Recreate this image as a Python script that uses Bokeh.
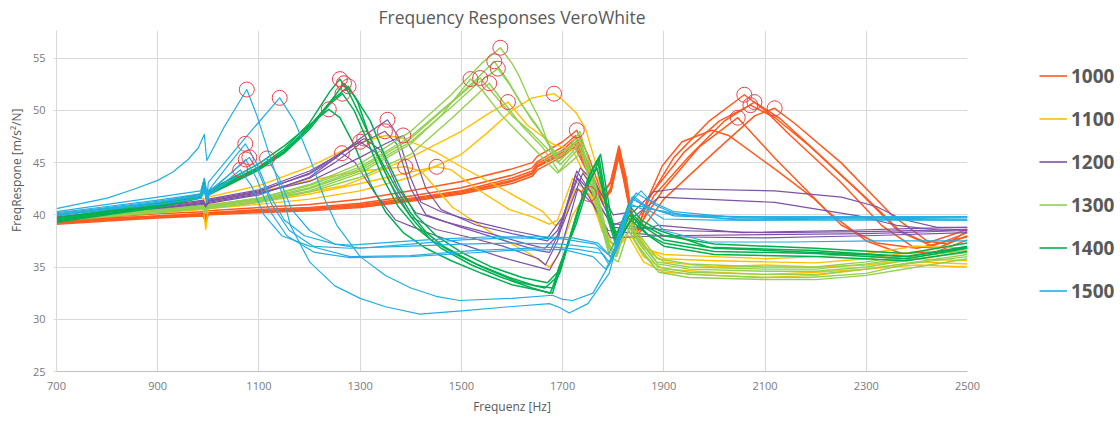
from bokeh.plotting import figure
from bokeh.layouts import row
from bokeh.models import Range1d, FixedTicker, Legend, LegendItem, Title
from bokeh.embed import file_html
from bokeh.resources import INLINE

# ---------------- data (frequency [Hz], response [m/s^2/N]) ----------------
group_names = ["1000", "1100", "1200", "1300", "1400", "1500"]
group_colors = ["#FF5A1F", "#FFC000", "#7E52A8", "#92D050", "#00B050", "#22AEE4"]
group_widths = [1.5, 1.4, 1.2, 1.4, 1.5, 1.2]

x_ticks = [700, 900, 1100, 1300, 1500, 1700, 1900, 2100, 2300, 2500]
y_ticks = [25, 30, 35, 40, 45, 50, 55]

# 1000
r1000_a = [(700,39.2),(800,39.5),(900,39.8),(990,40.0),(995,39.5),(1000,40.1),(1100,40.3),(1200,40.5),(1300,40.8),(1400,41.4),(1500,42.1),(1600,43.2),(1640,43.9),(1650,44.6),(1700,45.8),(1725,46.8),(1750,44.2),(1778,41.3),(1795,42.5),(1811,46.2),(1825,43.0),(1842,37.8),(1870,41.5),(1920,45.5),(1990,49.0),(2059,51.5),(2100,50.0),(2150,47.6),(2250,43.1),(2330,39.0),(2390,37.0),(2440,36.8),(2500,38.0)]
r1000_b = [(700,39.3),(800,39.6),(900,39.9),(990,40.1),(995,39.7),(1000,40.2),(1100,40.4),(1200,40.6),(1300,41.0),(1400,41.6),(1500,42.3),(1600,43.5),(1640,44.2),(1650,44.9),(1700,46.2),(1728,47.4),(1752,44.6),(1780,41.0),(1797,42.8),(1812,46.5),(1827,42.5),(1845,38.0),(1880,41.8),(1950,45.6),(2020,49.0),(2079,50.8),(2130,49.2),(2200,46.1),(2300,41.6),(2370,38.3),(2430,37.0),(2500,38.3)]
r1000_c = [(700,39.4),(800,39.7),(900,39.9),(990,40.1),(995,39.6),(1000,40.2),(1100,40.5),(1200,40.7),(1300,41.1),(1400,41.8),(1500,42.6),(1600,43.8),(1640,44.5),(1650,45.1),(1700,46.5),(1726,47.6),(1750,45.0),(1776,41.8),(1794,43.0),(1810,46.0),(1826,42.0),(1843,38.3),(1875,42.0),(1940,46.0),(2010,49.0),(2071,50.5),(2120,49.3),(2190,46.5),(2290,42.0),(2360,38.6),(2420,37.3),(2500,38.6)]
r1000_d = [(700,39.3),(800,39.6),(900,39.8),(990,40.0),(995,39.6),(1000,40.1),(1100,40.3),(1200,40.5),(1300,40.9),(1400,41.5),(1500,42.2),(1600,43.3),(1640,44.0),(1650,44.7),(1700,46.0),(1727,47.0),(1752,44.3),(1779,41.2),(1796,42.3),(1812,45.8),(1828,42.2),(1846,37.9),(1900,41.5),(2000,46.0),(2080,49.5),(2119,50.2),(2160,48.7),(2250,45.0),(2350,40.0),(2420,37.5),(2460,37.2),(2500,38.5)]
r1000_e = [(700,39.1),(800,39.4),(900,39.7),(990,39.9),(995,39.3),(1000,40.0),(1100,40.2),(1200,40.4),(1300,40.7),(1400,41.3),(1500,42.0),(1600,43.0),(1640,43.7),(1650,44.3),(1700,45.6),(1724,46.5),(1750,44.0),(1777,41.5),(1795,42.2),(1810,45.5),(1824,42.8),(1841,38.2),(1900,42.5),(1970,46.5),(2046,49.3),(2120,45.4),(2224,40.3),(2300,37.5),(2370,36.3),(2440,36.5),(2500,37.6)]
r1000_f = [(700,39.5),(800,39.8),(900,40.1),(990,40.3),(995,39.9),(1000,40.4),(1100,40.7),(1200,41.0),(1300,41.5),(1400,42.3),(1500,43.2),(1600,44.4),(1640,45.0),(1650,45.6),(1700,47.0),(1728,48.1),(1752,45.5),(1778,42.0),(1795,43.2),(1811,46.6),(1826,43.5),(1840,39.0),(1857,40.3),(1897,44.7),(1936,47.0),(1995,48.1),(2028,47.6),(2119,44.4),(2198,41.5),(2251,39.0),(2320,37.3),(2400,36.8),(2500,37.9)]

# 1100
r1100_a = [(700,39.8),(800,40.0),(900,40.3),(990,40.6),(995,38.6),(1000,40.6),(1100,41.0),(1200,41.5),(1300,42.3),(1400,43.6),(1500,45.8),(1550,47.8),(1600,50.0),(1640,51.2),(1683,51.6),(1700,51.0),(1726,49.8),(1745,48.3),(1765,45.0),(1779,41.6),(1792,40.0),(1805,38.0),(1825,40.0),(1845,38.5),(1870,36.5),(1900,35.5),(2000,35.0),(2100,35.2),(2200,35.0),(2300,35.2),(2400,35.8),(2500,35.6)]
r1100_b = [(700,39.9),(800,40.2),(900,40.5),(990,40.9),(995,40.6),(1000,41.0),(1100,41.5),(1200,42.2),(1267,42.8),(1300,43.4),(1400,45.5),(1500,48.0),(1550,49.6),(1592,50.8),(1630,48.6),(1680,46.8),(1720,46.2),(1750,43.2),(1778,38.4),(1800,37.2),(1828,39.8),(1860,37.0),(1900,35.8),(2000,35.6),(2100,35.5),(2200,35.4),(2300,35.8),(2400,36.5),(2500,36.5)]
r1100_c = [(700,40.2),(800,40.6),(900,41.1),(990,41.6),(995,41.2),(1000,41.7),(1100,42.8),(1200,44.6),(1267,46.2),(1305,47.0),(1350,47.6),(1380,47.4),(1450,46.0),(1496,44.7),(1580,42.5),(1661,40.3),(1685,39.0),(1700,39.3),(1725,42.5),(1752,42.0),(1775,39.5),(1800,37.0),(1830,39.0),(1860,36.8),(1900,36.2),(2000,36.0),(2100,35.8),(2200,36.0),(2300,36.3),(2400,37.0),(2500,36.8)]
r1100_d = [(700,40.0),(800,40.4),(900,40.9),(990,41.3),(995,41.0),(1000,41.4),(1100,42.2),(1200,43.3),(1300,44.2),(1389,44.6),(1420,44.2),(1483,40.7),(1562,38.2),(1634,36.3),(1674,35.0),(1690,36.0),(1720,40.0),(1752,42.5),(1780,39.0),(1800,36.0),(1830,38.5),(1860,36.0),(1900,34.8),(2000,34.5),(2100,34.3),(2200,34.5),(2300,34.8),(2400,35.5),(2500,35.3)]
r1100_e = [(700,39.6),(800,39.9),(900,40.2),(990,40.5),(995,40.2),(1000,40.6),(1100,41.2),(1200,42.0),(1300,43.0),(1400,44.1),(1451,44.6),(1480,44.3),(1530,42.5),(1595,40.5),(1640,39.8),(1674,39.1),(1690,39.5),(1720,43.5),(1752,42.0),(1775,39.0),(1800,36.5),(1830,38.0),(1860,35.5),(1900,34.5),(2000,34.2),(2100,34.0),(2200,34.2),(2300,34.8),(2400,35.2),(2500,35.0)]

# 1200
r1200_a = [(700,39.7),(800,40.2),(900,40.7),(990,41.3),(995,40.8),(1000,41.4),(1100,42.3),(1200,43.9),(1250,45.4),(1300,47.3),(1354,49.1),(1375,47.5),(1400,43.5),(1420,41.2),(1460,40.3),(1530,39.3),(1600,38.5),(1670,37.8),(1700,39.8),(1735,44.5),(1765,43.0),(1800,40.0),(1840,40.3),(1880,42.2),(1923,42.5),(2119,42.3),(2251,41.7),(2320,40.8),(2369,39.6),(2440,38.8),(2500,38.8)]
r1200_b = [(700,39.5),(800,40.0),(900,40.5),(990,41.1),(995,40.6),(1000,41.2),(1100,42.0),(1200,43.5),(1250,45.0),(1300,46.8),(1349,48.0),(1372,46.8),(1400,42.5),(1430,40.0),(1500,38.8),(1580,37.6),(1650,36.6),(1674,36.4),(1700,39.0),(1740,44.0),(1770,42.0),(1800,39.0),(1840,39.8),(1891,41.7),(2119,41.2),(2284,39.9),(2360,39.0),(2450,38.5),(2500,38.6)]
r1200_c = [(700,39.6),(800,40.1),(900,40.6),(990,41.2),(995,40.7),(1000,41.3),(1100,42.1),(1200,43.2),(1300,45.5),(1350,46.8),(1385,47.6),(1405,46.0),(1430,42.5),(1460,40.5),(1530,39.0),(1600,38.2),(1670,37.5),(1690,38.5),(1730,43.5),(1760,42.0),(1800,38.8),(1850,38.6),(1891,39.0),(2054,38.3),(2251,38.5),(2400,38.7),(2500,38.8)]
r1200_d = [(700,39.8),(800,40.3),(900,40.8),(990,41.4),(995,40.9),(1000,41.5),(1100,42.4),(1200,44.2),(1260,45.8),(1300,47.0),(1330,46.0),(1360,43.0),(1400,39.8),(1450,38.6),(1511,37.9),(1582,37.0),(1652,35.8),(1666,35.2),(1690,37.5),(1725,43.8),(1755,41.5),(1790,38.5),(1850,38.2),(1910,37.9),(2100,37.8),(2300,38.0),(2500,38.3)]
r1200_e = [(700,39.4),(800,39.9),(900,40.4),(990,41.0),(995,40.5),(1000,41.1),(1100,41.9),(1200,43.6),(1264,45.9),(1290,45.0),(1330,42.0),(1370,39.5),(1406,38.8),(1450,38.0),(1512,37.0),(1582,35.9),(1652,35.0),(1674,34.7),(1695,36.5),(1730,42.5),(1760,41.0),(1795,37.8),(1850,37.9),(1900,38.0),(2100,38.1),(2300,38.2),(2500,38.5)]
r1200_f = [(700,39.6),(800,40.1),(900,40.6),(990,41.2),(995,40.7),(1000,41.3),(1100,42.2),(1200,44.0),(1260,45.9),(1308,47.3),(1340,46.2),(1375,42.5),(1410,40.2),(1470,39.3),(1550,38.3),(1630,37.2),(1665,36.8),(1690,38.0),(1728,44.2),(1758,42.0),(1795,39.2),(1850,38.8),(1920,38.5),(2100,38.3),(2300,38.4),(2500,38.6)]

# 1300
r1300_a = [(700,39.5),(800,39.9),(900,40.3),(990,40.7),(995,40.3),(1000,40.7),(1100,41.3),(1200,42.3),(1300,44.0),(1400,46.8),(1460,49.5),(1518,53.0),(1540,52.0),(1580,49.5),(1620,47.5),(1660,45.5),(1690,44.0),(1715,45.5),(1735,46.5),(1760,42.0),(1790,36.5),(1805,36.0),(1825,39.0),(1850,37.0),(1885,34.8),(1950,34.3),(2100,34.0),(2186,34.0),(2300,34.4),(2382,35.3),(2500,36.0)]
r1300_b = [(700,39.6),(800,40.0),(900,40.4),(990,40.8),(995,40.4),(1000,40.8),(1100,41.5),(1200,42.6),(1300,44.4),(1400,47.3),(1470,50.3),(1537,53.1),(1565,51.5),(1600,49.5),(1640,47.8),(1680,45.8),(1710,46.3),(1735,47.2),(1762,42.5),(1792,37.0),(1808,36.3),(1828,39.5),(1852,37.5),(1888,35.3),(1950,34.8),(2100,34.6),(2200,34.6),(2300,35.0),(2400,35.8),(2500,36.4)]
r1300_c = [(700,39.4),(800,39.8),(900,40.2),(990,40.6),(995,40.2),(1000,40.6),(1100,41.2),(1200,42.2),(1300,43.6),(1400,45.8),(1480,49.2),(1555,52.6),(1580,51.0),(1620,48.5),(1660,46.5),(1693,44.1),(1715,45.0),(1738,46.0),(1765,41.5),(1793,36.0),(1810,35.5),(1830,38.5),(1855,36.5),(1890,34.5),(1950,34.0),(2100,33.8),(2200,33.8),(2300,34.2),(2400,35.0),(2500,35.8)]
r1300_d = [(700,39.7),(800,40.1),(900,40.5),(990,40.9),(995,40.5),(1000,40.9),(1100,41.6),(1200,42.8),(1300,44.6),(1400,47.5),(1480,50.8),(1530,53.0),(1565,54.7),(1590,53.0),(1614,51.0),(1640,49.0),(1667,47.3),(1690,45.0),(1712,46.0),(1732,47.5),(1760,43.0),(1790,37.0),(1806,36.5),(1826,40.0),(1850,37.8),(1886,35.5),(1950,35.0),(2100,34.8),(2200,34.8),(2300,35.3),(2400,36.0),(2500,36.6)]
r1300_e = [(700,39.5),(800,39.9),(900,40.3),(990,40.7),(995,40.3),(1000,40.8),(1100,41.4),(1200,42.5),(1300,44.2),(1400,47.0),(1480,50.3),(1530,52.5),(1572,54.0),(1595,52.5),(1620,50.5),(1650,48.5),(1675,46.5),(1695,44.8),(1715,45.8),(1736,47.0),(1763,42.8),(1791,36.8),(1807,36.0),(1827,39.2),(1852,37.2),(1888,35.0),(1950,34.5),(2100,34.3),(2200,34.3),(2300,34.8),(2400,35.5),(2500,36.2)]
r1300_f = [(700,39.6),(800,40.0),(900,40.4),(990,40.8),(995,40.4),(1000,40.9),(1100,41.6),(1200,42.9),(1300,44.9),(1400,48.0),(1480,51.5),(1540,54.5),(1577,56.0),(1600,54.5),(1614,53.3),(1634,51.1),(1654,49.2),(1670,47.0),(1692,45.5),(1714,46.5),(1734,48.0),(1762,43.5),(1791,37.5),(1808,37.0),(1829,40.2),(1853,38.0),(1887,35.8),(1950,35.3),(2100,35.0),(2200,35.0),(2300,35.5),(2400,36.2),(2500,36.8)]

# 1400
r1400_a = [(700,39.6),(800,40.3),(900,41.0),(985,41.9),(992,43.2),(997,41.5),(1000,42.2),(1050,43.4),(1100,44.6),(1150,46.3),(1200,48.8),(1240,51.8),(1260,53.0),(1280,51.5),(1300,49.5),(1332,46.0),(1366,43.0),(1398,40.3),(1431,38.3),(1464,37.0),(1529,35.3),(1595,34.0),(1647,33.2),(1680,33.0),(1693,35.0),(1726,39.0),(1752,43.0),(1770,45.0),(1790,40.0),(1805,37.5),(1830,41.0),(1855,39.5),(1891,38.5),(1989,36.9),(2186,36.6),(2382,36.0),(2500,36.9)]
r1400_b = [(700,39.4),(800,40.1),(900,40.8),(985,41.7),(992,42.8),(997,41.3),(1000,42.0),(1050,43.2),(1100,44.4),(1150,46.0),(1200,48.4),(1250,51.4),(1268,52.6),(1290,51.3),(1320,49.0),(1350,45.5),(1380,42.5),(1410,40.0),(1450,38.0),(1500,36.4),(1560,35.0),(1620,34.0),(1670,33.5),(1690,34.5),(1715,38.0),(1745,42.5),(1768,44.5),(1788,40.5),(1805,38.0),(1828,40.5),(1860,39.0),(1900,38.0),(2000,37.2),(2200,36.8),(2380,36.3),(2500,37.3)]
r1400_c = [(700,39.5),(800,40.2),(900,40.9),(985,41.8),(992,43.0),(997,41.4),(1000,42.1),(1050,43.3),(1100,44.5),(1150,46.1),(1200,48.5),(1250,51.2),(1277,52.3),(1295,50.8),(1315,48.0),(1345,44.5),(1375,41.5),(1405,39.5),(1440,37.6),(1490,36.2),(1550,34.8),(1610,33.6),(1665,33.0),(1688,34.0),(1720,38.5),(1750,43.5),(1770,45.3),(1790,39.5),(1806,37.0),(1832,40.0),(1862,38.8),(1900,37.6),(2000,36.8),(2200,36.4),(2380,36.0),(2500,37.0)]
r1400_d = [(700,39.3),(800,40.0),(900,40.7),(985,41.6),(992,42.6),(997,41.2),(1000,41.9),(1050,43.1),(1100,44.3),(1150,45.9),(1200,48.2),(1240,50.6),(1265,51.6),(1288,50.0),(1315,47.0),(1345,43.5),(1375,40.8),(1410,38.8),(1460,36.8),(1520,35.2),(1580,34.0),(1640,33.0),(1675,32.5),(1695,34.5),(1725,39.5),(1755,44.0),(1772,45.5),(1792,39.8),(1808,37.2),(1835,39.5),(1865,38.2),(1900,37.3),(2000,36.5),(2200,36.3),(2380,35.8),(2500,36.8)]
r1400_e = [(700,39.7),(800,40.4),(900,41.1),(985,42.0),(992,43.4),(997,41.6),(1000,42.3),(1050,43.6),(1100,44.9),(1150,46.6),(1200,48.6),(1238,50.1),(1260,49.3),(1290,46.5),(1320,43.0),(1350,40.3),(1385,38.3),(1430,36.8),(1480,35.6),(1540,34.4),(1600,33.3),(1650,32.8),(1680,32.5),(1700,35.5),(1730,40.5),(1760,44.5),(1775,45.8),(1795,40.0),(1810,37.5),(1838,39.8),(1870,38.0),(1900,37.0),(2000,36.2),(2200,36.0),(2380,35.6),(2500,36.5)]

# 1500
r1500_a = [(700,40.6),(800,41.6),(850,42.4),(900,43.3),(930,44.1),(960,45.3),(980,46.4),(992,47.7),(997,45.2),(1030,48.3),(1076,52.0),(1096,49.5),(1123,45.4),(1149,41.5),(1162,39.0),(1200,35.5),(1250,33.2),(1300,32.0),(1350,31.2),(1418,30.5),(1500,30.8),(1595,31.2),(1674,31.5),(1695,31.1),(1713,30.6),(1750,31.5),(1792,34.4),(1815,38.5),(1840,41.5),(1855,42.3),(1880,41.0),(1922,40.1),(2052,39.5),(2251,39.6),(2500,39.5)]
r1500_b = [(700,40.3),(800,41.0),(900,41.7),(985,42.3),(992,43.5),(998,42.0),(1000,43.1),(1070,47.2),(1141,51.2),(1170,49.0),(1200,45.5),(1230,41.5),(1254,39.0),(1300,36.0),(1350,34.2),(1400,33.0),(1450,32.2),(1496,31.8),(1600,32.0),(1680,32.3),(1700,31.9),(1720,31.8),(1760,32.5),(1795,35.5),(1820,39.8),(1845,42.1),(1870,41.4),(1920,40.3),(2050,39.7),(2250,39.7),(2500,39.6)]
r1500_c = [(700,40.2),(800,40.8),(900,41.4),(985,42.0),(992,42.9),(998,41.6),(1000,42.3),(1040,44.8),(1073,46.8),(1095,45.0),(1120,42.0),(1150,39.5),(1190,38.0),(1250,37.2),(1280,37.1),(1400,37.5),(1464,37.7),(1560,37.9),(1661,37.9),(1720,37.8),(1770,37.3),(1795,36.0),(1815,38.0),(1840,41.8),(1870,40.6),(1950,39.9),(2100,39.8),(2300,39.8),(2500,39.8)]
r1500_d = [(700,40.1),(800,40.7),(900,41.3),(985,41.9),(992,42.7),(998,41.5),(1000,42.2),(1045,44.0),(1081,45.5),(1100,44.0),(1125,41.0),(1160,38.5),(1210,36.9),(1280,36.0),(1399,36.1),(1529,36.6),(1686,36.9),(1730,36.7),(1778,36.3),(1792,35.2),(1810,37.0),(1835,41.0),(1860,40.5),(1900,38.5),(1988,37.4),(2150,37.4),(2316,37.5),(2500,37.5)]
r1500_e = [(700,40.0),(800,40.6),(900,41.2),(985,41.8),(992,42.5),(998,41.4),(1000,42.0),(1040,43.8),(1074,45.3),(1095,43.5),(1120,40.5),(1155,38.0),(1210,36.4),(1280,35.9),(1400,36.0),(1500,36.3),(1600,36.6),(1700,36.7),(1760,36.0),(1785,34.8),(1805,36.5),(1832,40.8),(1858,40.8),(1900,39.6),(2000,39.5),(2200,39.5),(2500,39.5)]
r1500_f = [(700,39.9),(800,40.5),(900,41.0),(985,41.6),(992,42.2),(998,41.2),(1000,41.8),(1035,43.2),(1063,44.3),(1085,42.8),(1110,40.0),(1145,38.0),(1200,37.0),(1280,36.8),(1400,37.0),(1500,37.2),(1600,37.3),(1700,37.2),(1770,36.8),(1792,35.5),(1812,37.5),(1838,41.5),(1865,40.8),(1920,39.9),(2050,39.6),(2250,39.7),(2500,39.8)]
r1500_g = [(700,40.0),(800,40.6),(900,41.2),(985,41.8),(992,42.4),(998,41.3),(1000,41.9),(1060,43.8),(1116,45.4),(1140,43.5),(1165,40.5),(1200,38.5),(1250,37.2),(1300,36.8),(1400,37.2),(1500,37.6),(1600,37.8),(1700,37.7),(1765,37.2),(1790,36.2),(1812,38.2),(1837,41.7),(1865,40.7),(1920,40.0),(2050,39.8),(2250,39.8),(2500,39.8)]

# marked peaks (red circles)
peak_hz = [1076, 1141, 1073, 1081, 1074, 1063, 1116,
           1260, 1268, 1277, 1265, 1238,
           1264, 1354, 1349, 1385, 1300, 1308,
           1389, 1451, 1592, 1683, 1752,
           1518, 1537, 1555, 1565, 1572, 1577, 1728,
           2059, 2079, 2071, 2119, 2046]
peak_val = [52.0, 51.2, 46.8, 45.5, 45.3, 44.3, 45.4,
            53.0, 52.6, 52.3, 51.6, 50.1,
            45.9, 49.1, 48.0, 47.6, 47.0, 47.3,
            44.6, 44.6, 50.8, 51.6, 42.0,
            53.0, 53.1, 52.6, 54.7, 54.0, 56.0, 48.1,
            51.5, 50.8, 50.5, 50.2, 49.3]

series = [
    [r1000_a, r1000_b, r1000_c, r1000_d, r1000_e, r1000_f],
    [r1100_a, r1100_b, r1100_c, r1100_d, r1100_e],
    [r1200_a, r1200_b, r1200_c, r1200_d, r1200_e, r1200_f],
    [r1300_a, r1300_b, r1300_c, r1300_d, r1300_e, r1300_f],
    [r1400_a, r1400_b, r1400_c, r1400_d, r1400_e],
    [r1500_a, r1500_b, r1500_c, r1500_d, r1500_e, r1500_f, r1500_g],
]

# ---------------- main chart ----------------
FONT = "Open Sans"
p = figure(width=985, height=423, output_backend="svg", toolbar_location=None,
           x_range=Range1d(700, 2500), y_range=Range1d(25, 57.65),
           min_border_left=52, min_border_right=18, min_border_top=30, min_border_bottom=52,
           title="Frequency Responses VeroWhite")
p.outline_line_color = None
p.background_fill_color = "white"
p.border_fill_color = "white"

p.title.align = "center"
p.title.text_font = FONT
p.title.text_font_size = "17.5px"
p.title.text_font_style = "normal"
p.title.text_color = "#595959"
p.title.standoff = 4

p.xaxis.ticker = FixedTicker(ticks=x_ticks)
p.yaxis.ticker = FixedTicker(ticks=y_ticks)
p.xgrid.ticker = FixedTicker(ticks=x_ticks)
p.ygrid.ticker = FixedTicker(ticks=y_ticks)
for g in (p.xgrid, p.ygrid):
    g.grid_line_color = "#D9D9D9"
    g.grid_line_width = 1

p.xaxis.axis_label = "Frequenz [Hz]"
for ax in (p.xaxis, p.yaxis):
    ax.major_label_text_font = FONT
    ax.major_label_text_font_size = "11px"
    ax.major_label_text_color = "#7A7A7A"
    ax.axis_label_text_font = FONT
    ax.axis_label_text_font_size = "12px"
    ax.axis_label_text_font_style = "normal"
    ax.axis_label_text_color = "#595959"
    ax.minor_tick_line_color = None
    ax.major_tick_in = 0
p.xaxis.axis_line_color = "#BFBFBF"
p.xaxis.major_tick_out = 0
p.xaxis.major_label_standoff = 10
p.xaxis.axis_label_standoff = 5
p.yaxis.axis_line_color = "#D9D9D9"
p.yaxis.major_tick_out = 3
p.yaxis.major_tick_line_color = "#D9D9D9"
p.yaxis.major_label_standoff = 8

# vertical axis title, placed toward the top like the original
ytitle = Title(text="FreqRespone [m/s²/N]", align="right", offset=78,
               text_font=FONT, text_font_size="12px", text_font_style="normal",
               text_color="#595959", standoff=10)
p.add_layout(ytitle, "left")

for name, color, width, curves in zip(group_names, group_colors, group_widths, series):
    for c in curves:
        xs = [pt[0] for pt in c]
        ys = [pt[1] for pt in c]
        p.line(xs, ys, line_color=color, line_width=width, line_join="round")

p.scatter(peak_hz, peak_val, marker="circle", size=15, fill_color=None,
          line_color="#E8434A", line_width=1)

# ---------------- legend panel (right of the chart) ----------------
lg = figure(width=135, height=423, output_backend="svg", toolbar_location=None,
            x_range=Range1d(0, 1), y_range=Range1d(0, 1),
            x_axis_type=None, y_axis_type=None,
            min_border_left=0, min_border_right=0, min_border_top=0, min_border_bottom=0)
lg.outline_line_color = None
lg.background_fill_color = "white"
lg.border_fill_color = "white"
lg.xgrid.visible = False
lg.ygrid.visible = False

legend_items = []
for name, color in zip(group_names, group_colors):
    # key glyph only; its points lie outside the (0..1) view
    r = lg.line([-5, -4], [-5, -5], line_color=color, line_width=1.6)
    legend_items.append(LegendItem(label=name, renderers=[r]))

legend = Legend(items=legend_items, location=(54, 67), orientation="vertical",
                glyph_width=28, glyph_height=27, label_height=27, spacing=16,
                padding=0, margin=0, label_standoff=4,
                border_line_color=None, background_fill_alpha=0,
                label_text_font=FONT, label_text_font_style="bold",
                label_text_font_size="19px", label_text_color="#595959")
lg.add_layout(legend)

layout = row(p, lg)
open("out.html", "w").write(file_html(layout, INLINE))
